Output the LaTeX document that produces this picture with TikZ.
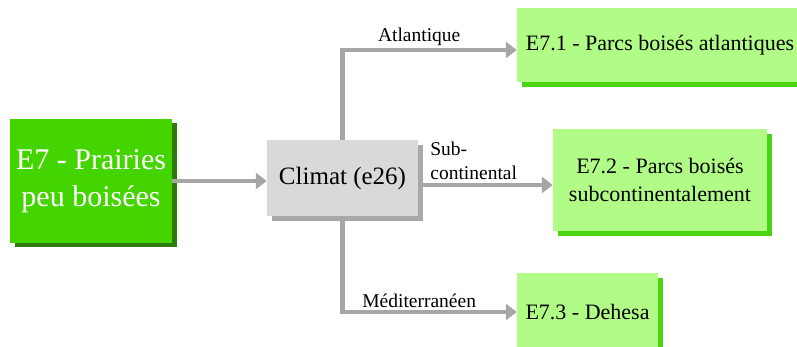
\documentclass[tikz,border=0pt]{standalone}
\usepackage{fontspec}
\setmainfont{Liberation Serif}[Ligatures=TeX]
\usetikzlibrary{arrows.meta,shadows}

\definecolor{grass}{HTML}{44D400}
\definecolor{grassdark}{HTML}{2E7A0C}
\definecolor{leaf}{HTML}{B0FC86}
\definecolor{leafshadow}{HTML}{4CD410}
\definecolor{climgrey}{HTML}{D9D9D9}
\definecolor{climshadow}{HTML}{A8A8A8}
\definecolor{wire}{HTML}{A6A6A6}

\tikzset{
  basebox/.style={rectangle, inner sep=0pt, align=center},
  mainbox/.style={basebox, fill=grass, text=white,
    drop shadow={shadow xshift=4.5pt, shadow yshift=-4.5pt, fill=grassdark, opacity=1},
    font=\fontsize{30}{37}\selectfont},
  climbox/.style={basebox, fill=climgrey,
    drop shadow={shadow xshift=5pt, shadow yshift=-5.5pt, fill=climshadow, opacity=1},
    font=\fontsize{25}{30}\selectfont},
  habbox/.style={basebox, fill=leaf,
    drop shadow={shadow xshift=4.5pt, shadow yshift=-5pt, fill=leafshadow, opacity=1},
    font=\fontsize{22}{28}\selectfont},
  wire/.style={draw=wire, line width=4.5pt, -{Triangle[length=11pt,width=16pt]}},
  wirelabel/.style={inner sep=2pt, font=\fontsize{19.5}{24}\selectfont},
}

\begin{document}
\begin{tikzpicture}[x=1pt, y=-1pt]
  \useasboundingbox (0,0) rectangle (797,347);

  % boxes
  \node[mainbox, minimum width=162pt, minimum height=124pt] (e7) at (91,181)
    {E7 - Prairies\\peu boisées};
  \node[climbox, minimum width=151pt, minimum height=76pt] (clim) at (342.5,178)
    {Climat (e26)};
  \node[habbox, minimum width=286pt, minimum height=74pt] (e71) at (660,45)
    {E7.1 - Parcs boisés atlantiques};
  \node[habbox, minimum width=214pt, minimum height=102pt] (e72) at (660,180)
    {E7.2 - Parcs boisés\\subcontinentalement};
  \node[habbox, minimum width=141pt, minimum height=78pt] (e73) at (587.5,312)
    {E7.3 - Dehesa};

  % connectors
  \draw[wire] (e7.east) -- (e7.east -| clim.west);

  \coordinate (atl) at ([yshift=-5pt]e71.west);
  \draw[wire] (clim.north) |- (atl)
    node[wirelabel, pos=0.72, above] {Atlantique};

  \coordinate (sub) at ([yshift=-7pt]clim.east);
  \draw[wire] (sub) -- (sub -| e72.west);
  \node[wirelabel, anchor=south west, align=left] (sublab)
    at ([xshift=10pt,yshift=3pt]sub) {Sub-\\continental};

  \draw[wire] (clim.south) |- (e73.west)
    node[wirelabel, pos=0.72, above] {Méditerranéen};
\end{tikzpicture}
\end{document}
